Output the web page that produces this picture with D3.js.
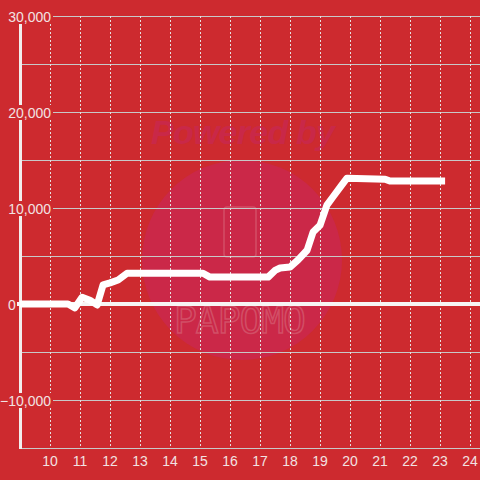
<!DOCTYPE html>
<html>
<head>
<meta charset="utf-8">
<script src="https://cdn.jsdelivr.net/npm/d3@7"></script>
<style>
  html, body { margin: 0; padding: 0; background: #cd2a2f; }
  svg { display: block; font-family: "Liberation Sans", Arial, sans-serif; }
</style>
</head>
<body>
<div id="chart"></div>
<script>
// hour of day -> running value
const hours = [9.0, 10.6, 10.83, 11.07, 11.33, 11.57, 11.77, 12.0, 12.27, 12.57,
  15.1, 15.33, 17.27, 17.5, 17.67, 18.0, 18.27, 18.57, 18.77, 19.0,
  19.23, 19.43, 19.73, 19.9, 21.17, 21.33, 23.17];
const values = [0, 0, -400, 700, 400, -100, 2000, 2200, 2500, 3200,
  3200, 2800, 2800, 3500, 3750, 3850, 4600, 5600, 7500, 8200,
  10300, 11150, 12400, 13100, 13000, 12800, 12800];

const xTicks = [10, 11, 12, 13, 14, 15, 16, 17, 18, 19, 20, 21, 22, 23, 24];
const yLabels = [-10000, 0, 10000, 20000, 30000];
const yGrid = [-15000, -10000, -5000, 5000, 10000, 15000, 20000, 25000, 30000];

const W = 480, H = 480;
const bg = '#cd2a2f';

const svg = d3.select('#chart').append('svg')
  .attr('width', W).attr('height', H);

svg.append('rect').attr('width', W).attr('height', H).attr('fill', bg);

const x = d3.scaleLinear().domain([9, 24.3333]).range([20, 480]);
const y = d3.scaleLinear().domain([-15000, 30000]).range([448, 16]);

// watermark
const wm = svg.append('g');
wm.append('circle')
  .attr('cx', 242).attr('cy', 260).attr('r', 100)
  .attr('fill', '#cb2848');
wm.append('text')
  .attr('x', 243).attr('y', 144)
  .attr('text-anchor', 'middle')
  .attr('font-size', 34).attr('font-weight', 'bold').attr('font-style', 'italic')
  .attr('textLength', 184)
  .attr('fill', '#c92848')
  .text('Powered by');
wm.append('rect')
  .attr('x', 224).attr('y', 207).attr('width', 32).attr('height', 50).attr('rx', 3)
  .attr('fill', 'none').attr('stroke', '#d4586e').attr('stroke-width', 1.5).attr('opacity', 0.8);
wm.append('text')
  .attr('x', 240).attr('y', 333)
  .attr('text-anchor', 'middle')
  .attr('font-family', '"DejaVu Sans Mono", monospace')
  .attr('font-size', 38).attr('textLength', 132)
  .attr('fill', 'none').attr('stroke', '#d4586e').attr('stroke-width', 1.5).attr('opacity', 0.8)
  .text('PAPOMO');

// horizontal grid
svg.append('g').selectAll('line').data(yGrid).join('line')
  .attr('x1', 20).attr('x2', W)
  .attr('y1', d => y(d) + 0.5).attr('y2', d => y(d) + 0.5)
  .attr('stroke', '#c8c8c8').attr('stroke-width', 1.2);

// vertical dashed grid
svg.append('g').selectAll('line').data(xTicks).join('line')
  .attr('x1', d => x(d) + 0.5).attr('x2', d => x(d) + 0.5)
  .attr('y1', y(30000)).attr('y2', y(-15000))
  .attr('stroke', '#e6e0e0').attr('stroke-width', 1)
  .attr('stroke-dasharray', '2,2');

// y axis line
svg.append('line')
  .attr('x1', 20.5).attr('x2', 20.5)
  .attr('y1', y(30000)).attr('y2', y(-15000) + 1)
  .attr('stroke', '#f2eeee').attr('stroke-width', 3);

// zero line
svg.append('line')
  .attr('x1', 17).attr('x2', W)
  .attr('y1', y(0)).attr('y2', y(0))
  .attr('stroke', '#f7f4f4').attr('stroke-width', 4);

// data line
const line = d3.line()
  .x((d, i) => x(hours[i]))
  .y(d => y(d));

svg.append('path')
  .datum(values)
  .attr('d', line)
  .attr('fill', 'none')
  .attr('stroke', '#ffffff')
  .attr('stroke-width', 7)
  .attr('stroke-linejoin', 'round')
  .attr('stroke-linecap', 'butt');

// y labels with background
const fmt = d3.format(',');
const yl = svg.append('g').selectAll('g').data(yLabels).join('g')
  .attr('transform', d => `translate(0,${y(d)})`);
yl.filter(d => d !== 0).append('rect')
  .attr('x', 3).attr('y', -7).attr('width', 50).attr('height', 15)
  .attr('fill', bg);
yl.append('text')
  .attr('x', d => d === 0 ? 8 : 51)
  .attr('y', 6)
  .attr('text-anchor', d => d === 0 ? 'start' : 'end')
  .attr('font-size', 14)
  .attr('fill', '#f2e2e2')
  .text(d => fmt(d));

// x labels
svg.append('g').selectAll('text').data(xTicks).join('text')
  .attr('x', d => x(d))
  .attr('y', 466)
  .attr('text-anchor', 'middle')
  .attr('font-size', 14)
  .attr('fill', '#f2e2e2')
  .text(d => d);
</script>
</body>
</html>
